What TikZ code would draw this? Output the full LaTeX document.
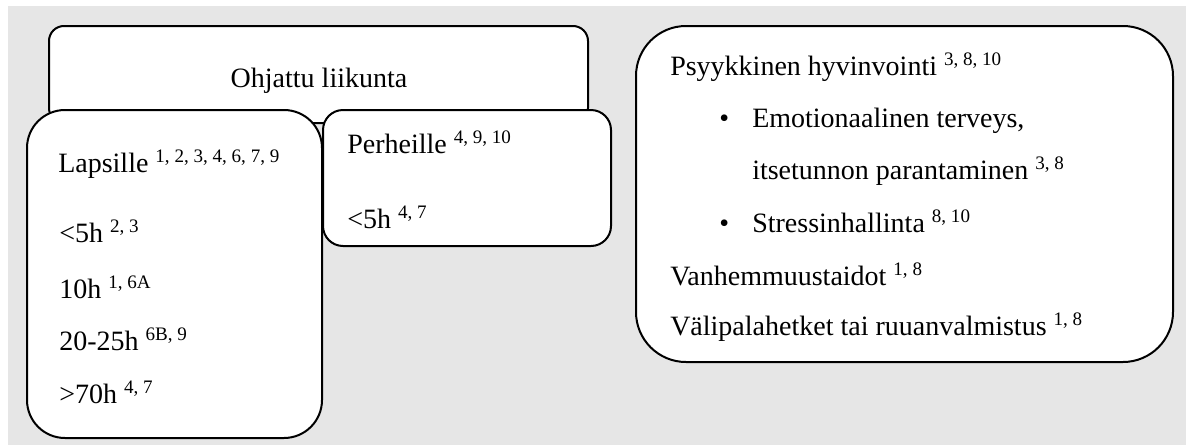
\documentclass[tikz,border=0pt]{standalone}
\usepackage{fontspec}
\setmainfont{Liberation Serif}
\definecolor{panelgray}{HTML}{E6E6E6}
% reference numbers set as small raised figures
\newcommand{\refnums}[1]{\raisebox{6.8pt}{\fontsize{14.3}{14.3}\selectfont #1}}
\begin{document}
\begin{tikzpicture}[x=0.75pt, y=-0.75pt,
  box/.style={draw=black, line width=1.5pt, fill=white},
  txt/.style={anchor=base west, inner sep=0pt, font=\fontsize{21}{25}\selectfont},
  ctxt/.style={anchor=base, inner sep=0pt, font=\fontsize{21}{25}\selectfont}]
\useasboundingbox (0,0) rectangle (1186,447);
\fill[panelgray] (8,6) rectangle (1186,445);

% frames
\draw[box, rounded corners=11.25pt] (49,26) rectangle (588,123);
\draw[box, rounded corners=28.5pt] (27,110) rectangle (322,438);
\draw[box, rounded corners=15pt] (323,110) rectangle (611,246);
\draw[box, rounded corners=37.5pt] (636,26) rectangle (1173,362);

% title
\node[ctxt] (ohjattu) at (319,87) {Ohjattu liikunta};

% children
\node[txt] (lapsille) at (58,172) {Lapsille \refnums{1, 2, 3, 4, 6, 7, 9}};
\node[txt] (l5h) at (59,242) {<5h \refnums{2, 3}};
\node[txt] (l10h) at (59,298) {10h \refnums{1, 6A}};
\node[txt] (l20h) at (59,350) {20-25h \refnums{6B, 9}};
\node[txt] (l70h) at (59,403) {>70h \refnums{4, 7}};

% families
\node[txt] (perheille) at (347,153) {Perheille \refnums{4, 9, 10}};
\node[txt] (p5h) at (347,228) {<5h \refnums{4, 7}};

% outcomes
\node[txt] (psyyk) at (670,75) {Psyykkinen hyvinvointi \refnums{3, 8, 10}};
\node[txt] (bul1) at (719,127) {•};
\node[txt] (emot) at (752,127) {Emotionaalinen terveys,};
\node[txt] (itse) at (752,179) {itsetunnon parantaminen \refnums{3, 8}};
\node[txt] (bul2) at (719,232) {•};
\node[txt] (stress) at (752,232) {Stressinhallinta \refnums{8, 10}};
\node[txt] (vanh) at (670,285) {Vanhemmuustaidot \refnums{1, 8}};
\node[txt] (vali) at (670,335) {Välipalahetket tai ruuanvalmistus \refnums{1, 8}};
\end{tikzpicture}
\end{document}
